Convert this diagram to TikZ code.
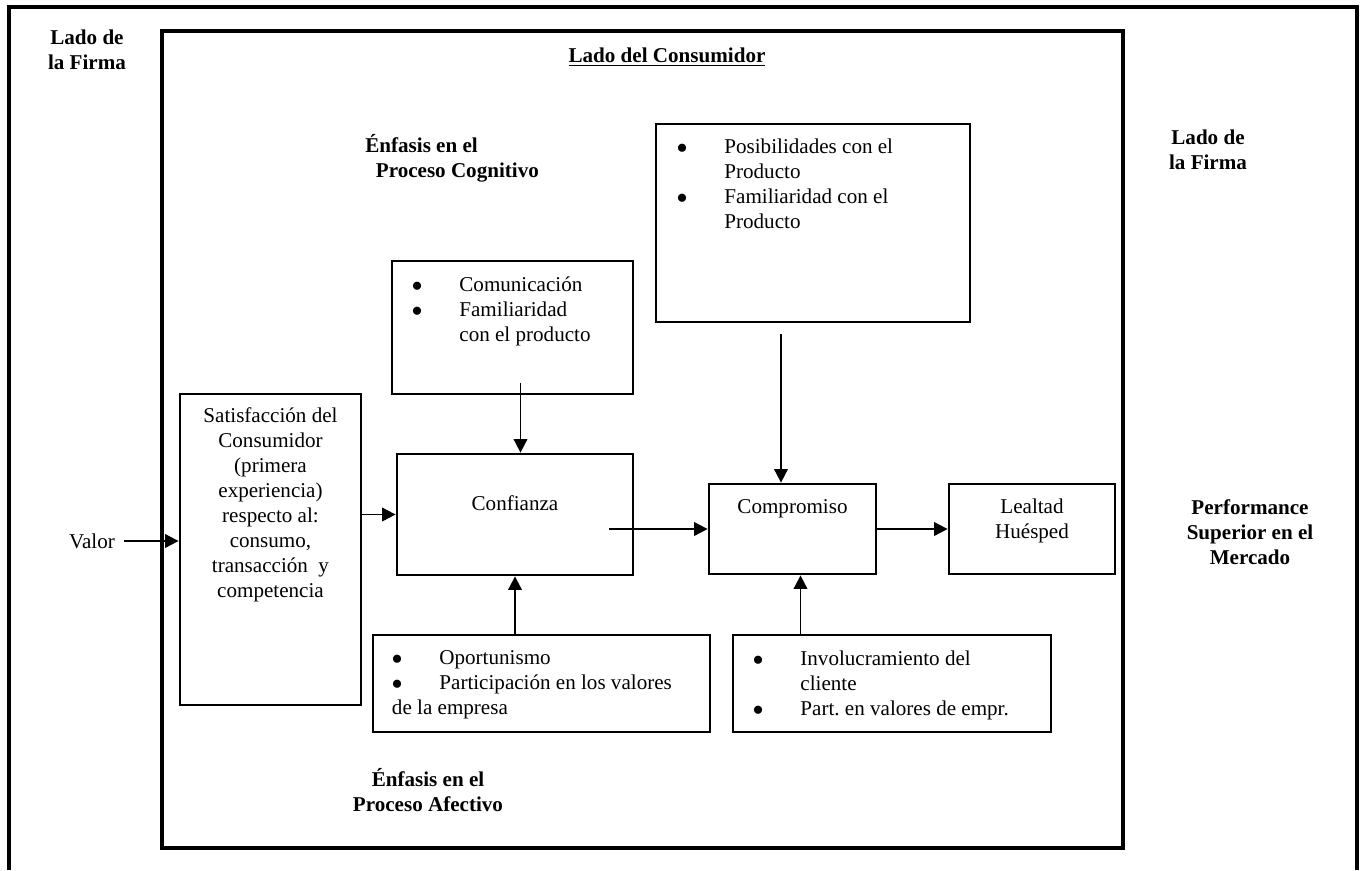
\documentclass[tikz,border=0pt]{standalone}
\usepackage{fontspec}
\setmainfont{Liberation Serif}
\usepackage{tikz}
\usetikzlibrary{shapes,arrows.meta,positioning,calc}
\newcommand{\letra}{\fontsize{12}{14.2}\selectfont}
\newcommand{\bala}{$\bullet$}
\tikzset{caja/.style={draw,line width=1.6pt,inner sep=0pt},
  texto/.style={inner sep=0pt,font=\letra},
  etiq/.style={inner sep=0pt,font=\letra\bfseries,align=center},}
\tikzstyle{arrow} = [line width=1.1pt,-{Triangle[length=0.27cm,width=0.27cm]}]

\begin{document}
\begin{tikzpicture}[x=0.02cm,y=-0.02cm,font=\letra]
    \useasboundingbox (0,0) rectangle (1362,870);
    % marcos
    \draw[line width=1.8pt] (9,870) -- (9,7) -- (1357,7) -- (1357,870);
    \draw[line width=2pt] (162,31) rectangle (1123,848);

    % etiquetas
    \node[etiq] (firmaL) at (87,49.5) {Lado de\\la Firma};
    \node[etiq] (firmaR) at (1208,149.5) {Lado de\\la Firma};
    \node[etiq] (consum) at (667,57) {\underline{Lado del Consumidor}};
    \node[etiq,align=left,anchor=west] (cognit) at (365,158) {\'Enfasis en el\\\hspace{6pt}Proceso Cognitivo};
    \node[etiq] (afect) at (428,790.5) {\'Enfasis en el\\Proceso Afectivo};
    \node[etiq] (perf) at (1250,532) {Performance\\Superior en el\\Mercado};
    \node[texto,inner sep=5pt] (valor) at (92,541) {Valor};

    % cajas
    \node[caja,minimum width=3.62cm,minimum height=6.22cm] (satis) at (270.5,549.5) {};
    \node[caja,minimum width=4.82cm,minimum height=2.66cm] (comun) at (512.5,327.5) {};
    \node[caja,minimum width=4.72cm,minimum height=2.42cm] (confi) at (515,514.5) {};
    \node[caja,minimum width=6.28cm,minimum height=3.96cm] (posib) at (813,223) {};
    \node[caja,minimum width=3.34cm,minimum height=1.8cm] (compr) at (792.5,529) {};
    \node[caja,minimum width=3.32cm,minimum height=1.8cm] (leal) at (1032,529) {};
    \node[caja,minimum width=6.74cm,minimum height=1.94cm] (opor) at (541.5,683.5) {};
    \node[caja,minimum width=6.36cm,minimum height=1.94cm] (invol) at (892,683.5) {};

    % textos de las cajas
    \node[texto,below=0.25cm of satis.north] (satistxt) {\begin{tabular}{@{}c@{}}Satisfacci\'on del\\Consumidor\\(primera\\experiencia)\\respecto al:\\consumo,\\transacci\'on\ \ y\\competencia\end{tabular}};
    \node[texto,below right=0.29cm and 0.42cm of comun.north west] (comuntxt) {\begin{tabular}{@{}l@{\hspace{21pt}}l@{}}\bala & Comunicaci\'on\\\bala & Familiaridad\\ & con el producto\end{tabular}};
    \node[texto,below right=0.27cm and 0.44cm of posib.north west] (posibtxt) {\begin{tabular}{@{}l@{\hspace{21pt}}l@{}}\bala & Posibilidades con el\\ & Producto\\\bala & Familiaridad con el\\ & Producto\end{tabular}};
    \node[texto,below right=0.27cm and 0.40cm of opor.north west] (oportxt) {\begin{tabular}{@{}l@{\hspace{21pt}}l@{}}\bala & Oportunismo\\\bala & Participaci\'on en los valores\\\multicolumn{2}{@{}l@{}}{de la empresa}\end{tabular}};
    \node[texto,below right=0.29cm and 0.42cm of invol.north west] (involtxt) {\begin{tabular}{@{}l@{\hspace{21pt}}l@{}}\bala & Involucramiento del\\ & cliente\\\bala & Part.\ en valores de empr.\end{tabular}};
    \node[texto] (confitxt) at (515,503) {Confianza};
    \node[texto] (comprtxt) at (792.5,509) {Compromiso};
    \node[texto,align=center] (lealtxt) at (1032,521) {Lealtad\\Hu\'esped};

    % flechas
    \draw [arrow] (valor) -- (valor -| satis.west);
    \draw [arrow] (satis.east |- confi) -- (confi.west);
    \draw [arrow] ($(comun.south)+(8,-12)$) coordinate (c1) -- (c1 |- confi.north);
    \draw [arrow] ($(confi.east |- compr)+(-25,0)$) -- (compr.west);
    \draw [arrow] ($(posib.south)+(-32,11)$) -- ($(compr.north)+(-11.5,0)$);
    \draw [arrow] (opor.north -| confi.south) -- (confi.south);
    \draw [arrow] ($(invol.north -| compr.south)+(8,0)$) -- ($(compr.south)+(8,0)$);
    \draw [arrow] (compr.east) -- (leal.west);

\end{tikzpicture}
\end{document}
